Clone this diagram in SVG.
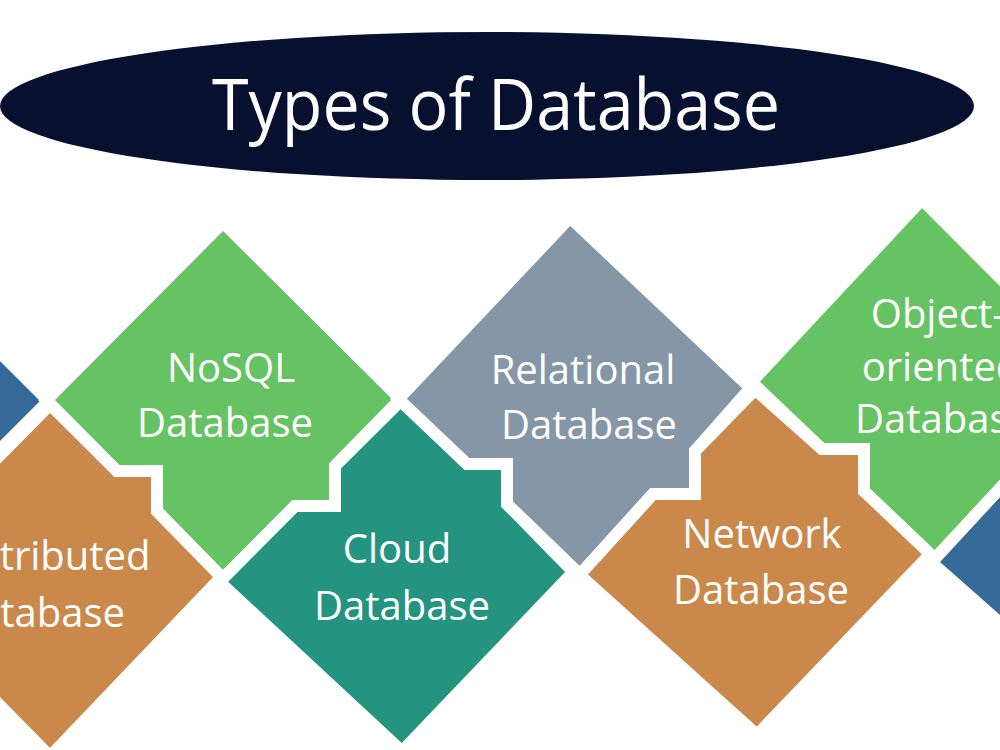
<svg xmlns="http://www.w3.org/2000/svg" width="1000" height="750" viewBox="0 0 1000 750">
  <style>
    .tile { stroke: #ffffff; stroke-width: 12; stroke-linejoin: miter; stroke-miterlimit: 10; }
    .green { fill: #66C363; }
    .gray { fill: #8596A6; }
    .teal { fill: #249481; }
    .orange { fill: #CA884B; }
    .blue { fill: #366A98; }
    .lbl { font-family: "Open Sans", "Noto Sans", "DejaVu Sans", sans-serif; font-size: 40px; fill: #ffffff; text-anchor: middle; }
    .title { font-family: "Open Sans", "Noto Sans", "DejaVu Sans", sans-serif; font-size: 72px; fill: #ffffff; text-anchor: middle; }
  </style>
  <rect width="1000" height="750" fill="#ffffff"/>

  <g id="title">
    <ellipse cx="487" cy="106" rx="487" ry="74" fill="#07102F"/>
    <text class="title" x="496" y="130" textLength="568" lengthAdjust="spacingAndGlyphs">Types of Database</text>
  </g>

  <g id="connectors"/>

  <g id="blue-left">
    <polygon class="tile blue" points="48.5,401 -50,302.5 -50,499.5"/>
  </g>

  <g id="distributed">
    <polygon class="tile orange" points="50,404.5 117,471 157,471 157,511 221.5,577 50,756.5 -123,580"/>
    <text class="lbl" x="46" y="570">Distributed</text>
    <text class="lbl" x="37" y="627">Database</text>
  </g>

  <g id="nosql">
    <polygon class="tile green" points="223,222.5 400.5,399 335,466 335,506 295,506 223,578.5 157,511 157,471 117,471 46.5,400"/>
    <text class="lbl" x="231" y="382">NoSQL</text>
    <text class="lbl" x="225" y="437">Database</text>
  </g>

  <g id="cloud">
    <polygon class="tile teal" points="402,399.5 467,464 507,464 507,504 573.5,572 402,751.5 219.5,582 295,506 335,506 335,466"/>
    <text class="lbl" x="397" y="563">Cloud</text>
    <text class="lbl" x="402" y="620">Database</text>
  </g>

  <g id="relational">
    <polygon class="tile gray" points="570,217.5 750.5,388 695,451 695,494 653,494 580,574.5 507,504 507,464 467,464 398.5,399"/>
    <text class="lbl" x="583" y="384">Relational</text>
    <text class="lbl" x="589" y="439">Database</text>
  </g>

  <g id="network">
    <polygon class="tile orange" points="755,389.5 822,449 864,449 864,491 931.5,553 757,735 579.5,575 653,494 695,494 695,451"/>
    <text class="lbl" x="762" y="548">Network</text>
    <text class="lbl" x="761" y="604">Database</text>
  </g>

  <g id="object-oriented">
    <polygon class="tile green" points="922,199.5 1100,378 1000,490 935,558.5 864,491 864,449 822,449 751.5,382"/>
    <text class="lbl" x="938" y="328">Object-</text>
    <text class="lbl" x="941" y="381">oriented</text>
    <text class="lbl" x="943" y="433">Database</text>
  </g>

  <g id="blue-right">
    <polygon class="tile blue" points="931.5,562.4 1010,477.5 1010,632"/>
  </g>
</svg>
